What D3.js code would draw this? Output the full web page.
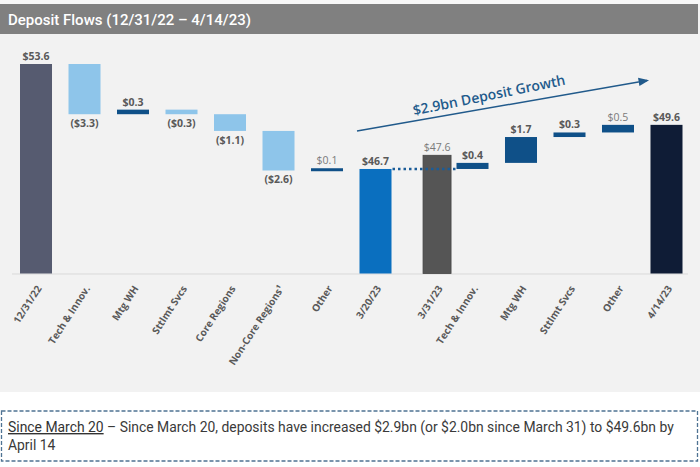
<!DOCTYPE html>
<html>
<head>
<meta charset="utf-8">
<script src="https://cdn.jsdelivr.net/npm/d3@7/dist/d3.min.js"></script>
<style>
  html, body { margin: 0; padding: 0; background: #ffffff; }
  svg { display: block; }
</style>
</head>
<body>
<svg id="chart" width="700" height="467"></svg>
<script>
// ---- data ----
const categories = ["12/31/22", "Tech & Innov.", "Mtg WH", "Sttlmt Svcs", "Core Regions", "Non-Core Regions\u00B9", "Other",
                    "3/20/23", "3/31/23", "Tech & Innov.", "Mtg WH", "Sttlmt Svcs", "Other", "4/14/23"];
const values = [53.6, -3.3, 0.3, -0.3, -1.1, -2.6, 0.1, 46.7, 47.6, 0.4, 1.7, 0.3, 0.5, 49.6];
const kinds = ["total", "delta", "delta", "delta", "delta", "delta", "delta",
               "total", "reference", "delta", "delta", "delta", "delta", "total"];
const valueLabels = ["$53.6", "($3.3)", "$0.3", "($0.3)", "($1.1)", "($2.6)", "$0.1",
                     "$46.7", "$47.6", "$0.4", "$1.7", "$0.3", "$0.5", "$49.6"];
const yDomain = [39.83, 53.6];
const title = "Deposit Flows  (12/31/22 \u2013 4/14/23)";
const arrowLabel = "$2.9bn Deposit Growth";
const noteLead = "Since March 20";
const noteLine1 = " \u2013 Since March 20, deposits have increased $2.9bn (or $2.0bn since March 31) to $49.6bn by";
const noteLine2 = "April 14";

// ---- waterfall computation ----
let level = 0;
const bars = values.map((v, i) => {
  const k = kinds[i];
  let lo, hi;
  if (k === "total") { lo = yDomain[0]; hi = v; level = v; }
  else if (k === "reference") { lo = yDomain[0]; hi = v; }
  else { lo = Math.min(level, level + v); hi = Math.max(level, level + v); level = level + v; }
  return { i, cat: categories[i], v, kind: k, lo, hi, label: valueLabels[i] };
});

// ---- layout ----
const svg = d3.select("#chart");
const W = 700, H = 467;
const baseY = 273.5, topY = 64;

svg.append("rect").attr("x", 0).attr("y", 0).attr("width", W).attr("height", 392).attr("fill", "#f2f2f2");
svg.append("rect").attr("x", 0).attr("y", 0).attr("width", W).attr("height", 4).attr("fill", "#f7f7f7");
svg.append("rect").attr("x", 0).attr("y", 4).attr("width", 698).attr("height", 30).attr("fill", "#808080");
svg.append("text").attr("x", 8).attr("y", 25)
  .attr("font-family", "Roboto, sans-serif").attr("font-size", 15).attr("font-weight", 500).attr("fill", "#ffffff")
  .text(title);

const x = d3.scaleBand().domain(d3.range(categories.length)).range([20, 682.5]).paddingInner(0.34).paddingOuter(0);
const y = d3.scaleLinear().domain(yDomain).range([baseY, topY]);
const bw = x.bandwidth();

const totalColor = { "12/31/22": "#565b70", "3/20/23": "#0a6fbf", "3/31/23": "#555555", "4/14/23": "#0f1c36" };
function fillFor(d) {
  if (d.kind === "total" || d.kind === "reference") return totalColor[d.cat];
  return d.v < 0 ? "#8ec5ea" : "#0f5088";
}
function barX(d) { return d.kind === "reference" ? x(d.i) + bw * 0.47 : x(d.i); }
function barW(d) { return d.kind === "reference" ? bw * 0.875 : bw; }
const minH = 3;
function barTop(d) {
  const h = y(d.lo) - y(d.hi);
  return h < minH ? (y(d.lo) + y(d.hi)) / 2 - minH / 2 : y(d.hi);
}
function barH(d) { return Math.max(minH, y(d.lo) - y(d.hi)); }

// baseline
svg.append("line").attr("x1", 12).attr("x2", 688).attr("y1", baseY + 0.5).attr("y2", baseY + 0.5)
  .attr("stroke", "#d9d9d9").attr("stroke-width", 1);

svg.append("g").selectAll("rect").data(bars).join("rect")
  .attr("x", barX).attr("width", barW)
  .attr("y", barTop).attr("height", barH)
  .attr("fill", fillFor)
  .attr("stroke", d => d.kind === "reference" ? "#444" : "none")
  .attr("stroke-width", 0.8);

// dotted connector from 3/20 level to post-3/31 flows
const i320 = kinds.indexOf("total", 1);
svg.append("line")
  .attr("x1", x(i320) + bw + 1).attr("x2", x(i320 + 2) - 1)
  .attr("y1", y(values[i320])).attr("y2", y(values[i320]))
  .attr("stroke", "#1a5c98").attr("stroke-width", 2.5).attr("stroke-dasharray", "2.5,3");

// value labels
const lightLabels = new Set([6, 8, 12]);
svg.append("g").selectAll("text").data(bars).join("text")
  .attr("x", d => barX(d) + barW(d) / 2)
  .attr("y", d => d.v < 0 ? barTop(d) + barH(d) + 13 : barTop(d) - 4)
  .attr("text-anchor", "middle")
  .attr("font-family", "'Open Sans', sans-serif")
  .attr("font-size", 10.5)
  .attr("font-weight", d => lightLabels.has(d.i) ? 400 : 700)
  .attr("fill", d => lightLabels.has(d.i) ? "#7a7a7a" : "#595959")
  .text(d => d.label);

// category labels
svg.append("g").selectAll("text").data(bars).join("text")
  .attr("transform", d => `translate(${barX(d) + barW(d) / 2 + 6},${baseY + 15}) rotate(-57)`)
  .attr("text-anchor", "end")
  .attr("font-family", "'Open Sans', sans-serif")
  .attr("font-size", 10)
  .attr("font-weight", 700)
  .attr("fill", "#595959")
  .text(d => d.cat);

// growth arrow annotation
const defs = svg.append("defs");
defs.append("marker").attr("id", "arr").attr("viewBox", "0 0 10 10").attr("refX", 8).attr("refY", 5)
  .attr("markerWidth", 7).attr("markerHeight", 7).attr("orient", "auto")
  .append("path").attr("d", "M0,1 L10,5 L0,9 Z").attr("fill", "#215a8b");
svg.append("line").attr("x1", 357).attr("y1", 131).attr("x2", 647).attr("y2", 80.5)
  .attr("stroke", "#215a8b").attr("stroke-width", 1.5).attr("marker-end", "url(#arr)");
svg.append("text")
  .attr("transform", "translate(490,100) rotate(-11.5)")
  .attr("text-anchor", "middle")
  .attr("font-family", "'Open Sans', sans-serif").attr("font-size", 14).attr("font-weight", 600)
  .attr("fill", "#1f5b8c")
  .text(arrowLabel);

// footnote box
svg.append("rect").attr("x", 1.5).attr("y", 411).attr("width", 696).attr("height", 50)
  .attr("fill", "#ffffff").attr("stroke", "#4f7393").attr("stroke-width", 1.3).attr("stroke-dasharray", "4,2");
const note = svg.append("text").attr("x", 8).attr("y", 432)
  .attr("font-family", "Roboto, sans-serif").attr("font-size", 13.9).attr("fill", "#3a3a3a");
note.append("tspan").attr("text-decoration", "underline").attr("fill", "#333333").text(noteLead);
note.append("tspan").text(noteLine1);
svg.append("text").attr("x", 8).attr("y", 450)
  .attr("font-family", "Roboto, sans-serif").attr("font-size", 13.9).attr("fill", "#3a3a3a")
  .text(noteLine2);
</script>
</body>
</html>
